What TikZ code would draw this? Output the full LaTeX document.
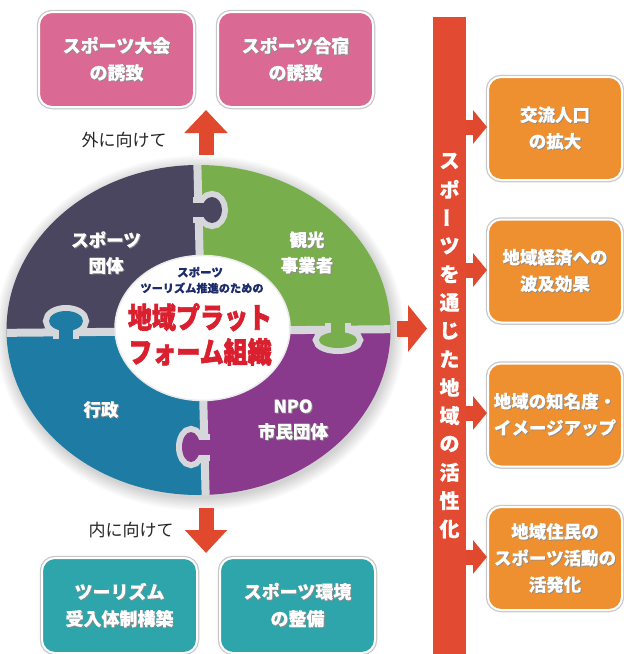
\documentclass[tikz,border=0pt]{standalone}
\usepackage{fontspec}
\setmainfont{Noto Sans CJK JP}[BoldFeatures={FakeBold=0.4}]
\newfontfamily\heavyfont{Noto Sans CJK JP}[BoldFeatures={FakeBold=2.2}]
\usetikzlibrary{arrows.meta}
\definecolor{cpink}{HTML}{DA6A93}
\definecolor{cteal}{HTML}{2DA5AA}
\definecolor{corange}{HTML}{EE9030}
\definecolor{cbar}{HTML}{E24A32}
\definecolor{carrow}{HTML}{E0492D}
\definecolor{cdark}{HTML}{4A4660}
\definecolor{cgreen}{HTML}{78AE4C}
\definecolor{cblue}{HTML}{1E7BA3}
\definecolor{cpurple}{HTML}{8A3A8C}
\definecolor{cgap}{HTML}{D6D7DB}
\definecolor{cnavy}{HTML}{1D2C6B}
\definecolor{ctitle}{HTML}{DA1F2E}
\newcommand\sh[1]{\leavevmode\rlap{\kern0.9pt\raisebox{-0.9pt}{\color{black!45}#1}}#1}
\tikzset{
  box/.style={rounded corners=13pt, draw=white, line width=2pt,
    preaction={draw=black!22, line width=4.5pt}, text=white, align=center, inner sep=0pt},
  pinkbox/.style={box, fill=cpink, minimum width=155pt, minimum height=95pt,
    font=\bfseries\fontsize{18}{27}\selectfont},
  tealbox/.style={box, fill=cteal, minimum width=155pt, minimum height=95pt,
    font=\bfseries\fontsize{18}{27}\selectfont},
  orangebox/.style={box, fill=corange, minimum width=134pt, minimum height=103pt,
    font=\bfseries\fontsize{17.5}{26.5}\selectfont},
  piecelabel/.style={text=white, align=center, inner sep=0pt,
    font=\bfseries\fontsize{17.5}{25.5}\selectfont},
  sidelabel/.style={text=black!85, inner sep=0pt, font=\fontsize{17}{20}\selectfont},
  smallarrow/.style={draw=carrow, line width=15pt, -{Triangle[length=14pt,width=33pt]}},
  bigarrow/.style={draw=carrow, line width=15pt, -{Triangle[length=23pt,width=42pt]}},
  vchar/.style={text=white, inner sep=0pt, font=\bfseries\fontsize{20}{20}\selectfont},
}
\begin{document}
\begin{tikzpicture}[x=1pt,y=-1pt]
\useasboundingbox (0,0) rectangle (624,654);
\fill[white] (0,0) rectangle (624,654);

% soft shadow of the ring
\foreach \k in {1,...,9}{
  \fill[black, opacity=0.018] (200,333) ellipse [x radius={191+1.5*\k}, y radius={164+1.5*\k}];
}

% ring pieces
\begin{scope}
  \clip (198.5,330) ellipse [x radius=192, y radius=165];
  \fill[cdark]   (-10,150) -- (197,150) -- (201,331) -- (-10,333) -- cycle;
  \fill[cgreen]  (197,150) -- (410,150) -- (410,329) -- (201,331) -- cycle;
  \fill[cblue]   (-10,333) -- (201,331) -- (206,510) -- (-10,510) -- cycle;
  \fill[cpurple] (201,331) -- (410,329) -- (410,510) -- (206,510) -- cycle;
  \draw[cgap, line width=8pt] (197,150) -- (206,510);
  \draw[cgap, line width=8pt] (-10,333) -- (410,329);
\end{scope}

% knobs: grey outline, then fill
\draw[cgap, line width=12pt] (212,210) ellipse [x radius=10, y radius=13];
\draw[cgap, line width=12pt] (199,203) rectangle (206,217);
\fill[cdark] (212,210) ellipse [x radius=10, y radius=13];
\fill[cdark] (188,203) rectangle (207,217);
\draw[cgap, line width=12pt] (66,321) ellipse [x radius=17, y radius=10];
\draw[cgap, line width=12pt] (59,324) rectangle (73,333);
\fill[cblue] (66,321) ellipse [x radius=17, y radius=10];
\fill[cblue] (59,323) rectangle (73,345);
\draw[cgap, line width=12pt] (338,340) ellipse [x radius=19, y radius=8];
\draw[cgap, line width=12pt] (331,329) rectangle (345,337);
\fill[cgreen] (338,340) ellipse [x radius=19, y radius=8];
\fill[cgreen] (331,316) rectangle (345,338);
\draw[cgap, line width=12pt] (191,447) ellipse [x radius=9, y radius=15];
\draw[cgap, line width=12pt] (193,440) rectangle (204,455);
\fill[cpurple] (191,447) ellipse [x radius=9, y radius=15];
\fill[cpurple] (192,440) rectangle (216,455);

% inner hole
\fill[white, draw=black!8, line width=1.5pt] (202.5,328) ellipse [x radius=87.5, y radius=72.5];

% center texts
\node[text=cnavy, inner sep=0pt, font=\bfseries\fontsize{11.5}{13}\selectfont] (sub1) at (200,272) {スポーツ};
\node[text=cnavy, inner sep=0pt, font=\bfseries\fontsize{11.2}{13}\selectfont] (sub2) at (202,288) {ツーリズム推進のための};
\node[text=ctitle, inner sep=0pt, font=\heavyfont\bfseries\fontsize{24}{27.5}\selectfont] (title) at (200,338)
  {\scalebox{1}[1.2]{\begin{tabular}{@{}c@{}}地域プラット\\フォーム組織\end{tabular}}};

% piece labels
\node[piecelabel] (lsports) at (106,253) {\sh{スポーツ}\\\sh{団体}};
\node[piecelabel] (lkanko) at (307,253) {\sh{観光}\\\sh{事業者}};
\node[piecelabel] (lgyosei) at (101,410) {\sh{行政}};
\node[piecelabel] (lnpo) at (293,420) {\sh{NPO}\\\sh{市民団体}};

% top boxes
\node[pinkbox] (p1) at (116.5,59.5) {\sh{スポーツ大会}\\\sh{の誘致}};
\node[pinkbox] (p2) at (295.5,59.5) {\sh{スポーツ合宿}\\\sh{の誘致}};
\node[sidelabel] (outl) at (124,140) {外に向けて};
\coordinate (upS) at (206,155);
\coordinate (upT) at (206,110);
\draw[bigarrow] (upS) -- (upT);

% bottom boxes
\node[tealbox] (t1) at (119.5,605.5) {\sh{ツーリズム}\\\sh{受入体制構築}};
\node[tealbox] (t2) at (297.5,605.5) {\sh{スポーツ環境}\\\sh{の整備}};
\node[sidelabel] (inl) at (131,530) {内に向けて};
\coordinate (dnS) at (206,508);
\coordinate (dnT) at (206,553);
\draw[draw=carrow, line width=15pt, -{Triangle[length=23pt,width=41pt]}] (dnS) -- (dnT);

% red bar
\node[fill=cbar, minimum width=33pt, minimum height=640pt, inner sep=0pt, anchor=north] (bar) at (449.5,17) {};
\foreach \ch [count=\i from 0] in {ス,ポ,ー,ツ,を,通,じ,た,地,域,の,活,性,化}{
  \ifnum\i=2
    \node[vchar] (vt\i) at (449.5,{161+28.3*\i}) {\rotatebox{90}{\ch}};
  \else
    \node[vchar] (vt\i) at (449.5,{161+28.3*\i}) {\ch};
  \fi
}

% arrow from ring to bar
\coordinate (rS) at (397,328.5);
\coordinate (rT) at (427,328.5);
\draw[draw=carrow, line width=16pt, -{Triangle[length=19pt,width=46pt]}] (rS) -- (rT);

% orange boxes
\node[orangebox] (o1) at (555,128.5) {\sh{交流人口}\\\sh{の拡大}};
\node[orangebox] (o2) at (555,271) {\sh{地域経済への}\\\sh{波及効果}};
\node[orangebox] (o3) at (555,415) {\sh{地域の知名度・}\\\sh{イメージアップ}};
\node[orangebox] (o4) at (555,558.5) {\sh{地域住民の}\\\sh{スポーツ活動の}\\\sh{活発化}};

\draw[smallarrow] (bar.east |- 0,127) -- (o1.west |- 0,127);
\draw[smallarrow] (bar.east |- 0,270) -- (o2.west |- 0,270);
\draw[smallarrow] (bar.east |- 0,413) -- (o3.west |- 0,413);
\draw[smallarrow] (bar.east |- 0,557) -- (o4.west |- 0,557);
\end{tikzpicture}
\end{document}
